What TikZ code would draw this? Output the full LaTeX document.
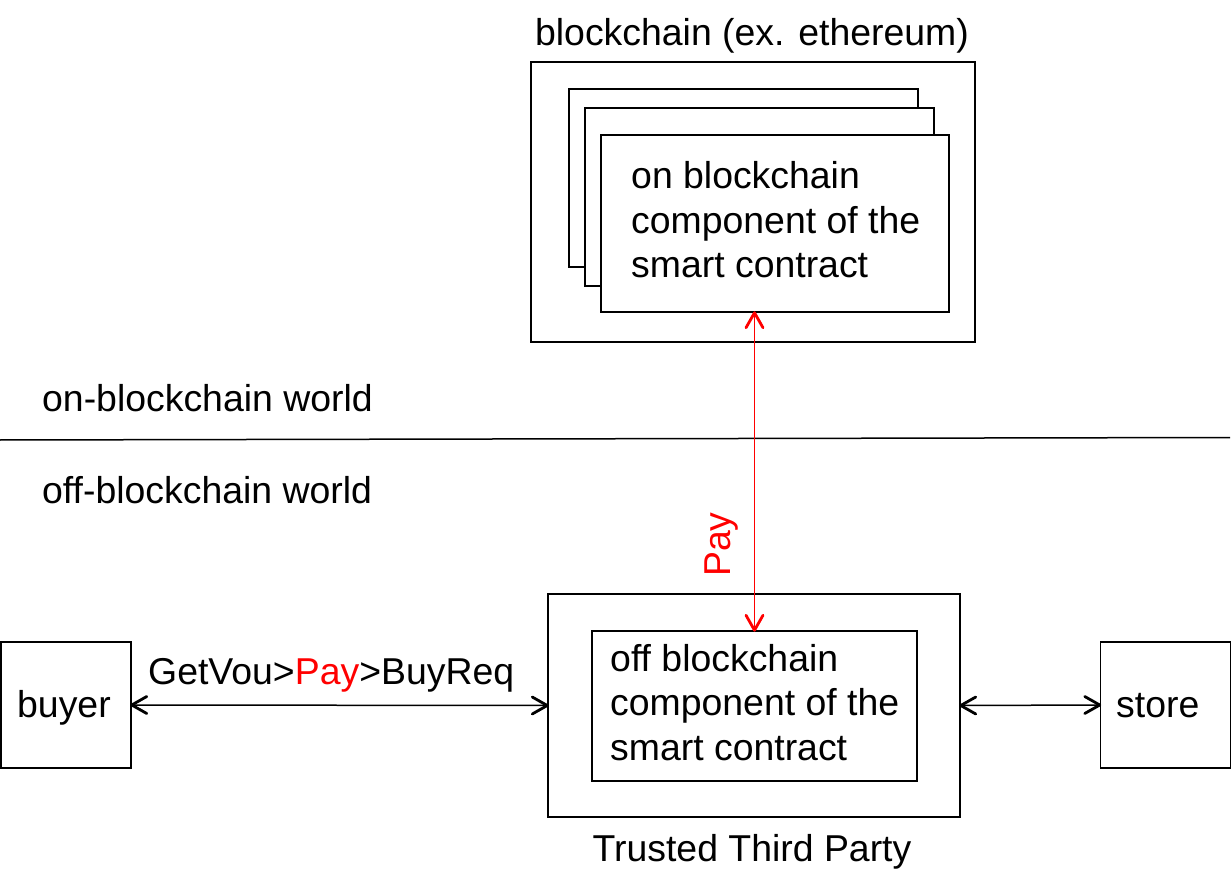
\documentclass[tikz,border=0pt]{standalone}
\usepackage{fontspec}
\setmainfont{Liberation Sans}
\usetikzlibrary{calc}
\begin{document}
\begin{tikzpicture}[x=1pt,y=1pt,
  box/.style={draw=black,line width=1.5pt,inner sep=0pt,rectangle},
  txt/.style={inner sep=0pt,anchor=base west,font=\fontsize{37.4}{44.5}\selectfont},
  ctxt/.style={inner sep=0pt,anchor=base,font=\fontsize{37.4}{44.5}\selectfont},
  shaft/.style={line width=1.5pt},
  head/.style={line width=2.8pt,line cap=round,line join=round}]
\useasboundingbox (0,0) rectangle (1232,-877);
% blockchain area
\node[ctxt] (bctitle) at (752,-46) {blockchain (ex. ethereum)};
\node[box,minimum width=444pt,minimum height=280pt] (bc) at (753,-202) {};
\node[box,fill=white,minimum width=349pt,minimum height=178pt] (back) at (743.5,-178) {};
\node[box,fill=white,minimum width=349pt,minimum height=178pt] (mid) at (759.5,-197) {};
\node[box,fill=white,minimum width=348pt,minimum height=177pt] (front) at (775,-223.5) {};
\node[txt] (on1) at (631,-189) {on blockchain};
\node[txt] (on2) at (631,-233.5) {component of the};
\node[txt] (on3) at (631,-278) {smart contract};
% worlds
\node[txt] (onw) at (42,-411) {on-blockchain world};
\coordinate (lineL) at (0,-440);
\coordinate (lineR) at (1230,-437.5);
\draw[line width=1.5pt] (lineL) -- (lineR);
\node[txt] (offw) at (42,-503) {off-blockchain world};
% TTP
\node[box,minimum width=412pt,minimum height=223pt] (ttp) at (754,-705.5) {};
\node[box,minimum width=325pt,minimum height=150pt] (inner) at (754.5,-706) {};
\node[txt] (off1) at (610,-671) {off blockchain};
\node[txt] (off2) at (610,-715.5) {component of the};
\node[txt] (off3) at (610,-760) {smart contract};
\node[ctxt] (ttplabel) at (752,-861) {Trusted Third Party};
% buyer and store
\node[box,minimum width=130pt,minimum height=126pt] (buyer) at (66,-705) {};
\node[txt] (buyertxt) at (17,-717) {buyer};
\node[box,minimum width=130pt,minimum height=126pt] (store) at (1165.5,-705) {};
\node[txt] (storetxt) at (1116,-717) {store};
% red connector
\coordinate (redtop) at (front.south -| inner.north);
\draw[shaft,red] (redtop) -- (inner.north);
\draw[head,red] ($(redtop)+(-8.5,-15)$) -- (redtop) -- ($(redtop)+(8.5,-15)$);
\draw[head,red] ($(inner.north)+(-8.5,15)$) -- (inner.north) -- ($(inner.north)+(8.5,15)$);
\node[txt,red,rotate=90] (pay) at (730,-577) {Pay};
% buyer connector
\draw[shaft] (buyer.east) -- (ttp.west);
\draw[head] ($(buyer.east)+(15,8.5)$) -- (buyer.east) -- ($(buyer.east)+(15,-8.5)$);
\draw[head] ($(ttp.west)+(-15,8.5)$) -- (ttp.west) -- ($(ttp.west)+(-15,-8.5)$);
\node[txt] (msg) at (148,-684) {GetVou>\textcolor{red}{Pay}>BuyReq};
% store connector
\draw[shaft] (ttp.east) -- (store.west);
\draw[head] ($(ttp.east)+(15,8.5)$) -- (ttp.east) -- ($(ttp.east)+(15,-8.5)$);
\draw[head] ($(store.west)+(-15,8.5)$) -- (store.west) -- ($(store.west)+(-15,-8.5)$);
\end{tikzpicture}
\end{document}
